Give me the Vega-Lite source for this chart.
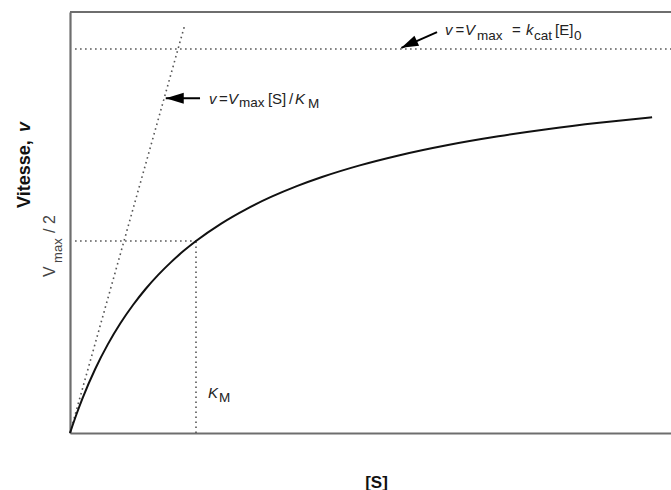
{
  "$schema": "https://vega.github.io/schema/vega-lite/v6.json",
  "width": 601,
  "height": 421,
  "autosize": "none",
  "padding": {"left": 70, "top": 12, "right": 0, "bottom": 57},
  "config": {"view": {"stroke": null}, "font": "Liberation Sans"},
  "datasets": {
    "curve": [
      {"s": 0, "v": 0}, {"s": 0.05, "v": 0.0476}, {"s": 0.1, "v": 0.0909}, {"s": 0.2, "v": 0.1667},
      {"s": 0.3, "v": 0.2308}, {"s": 0.4, "v": 0.2857}, {"s": 0.5, "v": 0.3333}, {"s": 0.6, "v": 0.375},
      {"s": 0.7, "v": 0.4118}, {"s": 0.8, "v": 0.4444}, {"s": 0.9, "v": 0.4737}, {"s": 1.0, "v": 0.5},
      {"s": 1.2, "v": 0.5455}, {"s": 1.4, "v": 0.5833}, {"s": 1.6, "v": 0.6154}, {"s": 1.8, "v": 0.6429},
      {"s": 2.0, "v": 0.6667}, {"s": 2.3, "v": 0.697}, {"s": 2.6, "v": 0.7222}, {"s": 3.0, "v": 0.75},
      {"s": 3.4, "v": 0.7727}, {"s": 3.8, "v": 0.7917}, {"s": 4.2, "v": 0.8077}, {"s": 4.62, "v": 0.8221}
    ],
    "guides": [
      {"name": "tangent", "x": 0, "y": 0, "x2": 0.913, "y2": 1.065},
      {"name": "vmax", "x": 0.04, "y": 1.0, "x2": 4.77, "y2": 1.0},
      {"name": "half", "x": 0.04, "y": 0.5, "x2": 1.0, "y2": 0.5},
      {"name": "km", "x": 1.0, "y": 0.0, "x2": 1.0, "y2": 0.5}
    ],
    "frame": [
      {"x": 0, "y": 1.0964, "x2": 4.77, "y2": 1.0964}
    ],
    "arrows": [
      {"name": "a1", "x": 2.913, "y": 1.044, "x2": 2.63, "y2": 1.003},
      {"name": "a2", "x": 1.032, "y": 0.872, "x2": 0.76, "y2": 0.872}
    ],
    "labels": [
      {"role": "italic", "t": "v", "x": 2.976, "y": 1.036},
      {"role": "roman", "t": "=", "x": 3.06, "y": 1.036},
      {"role": "italic", "t": "V", "x": 3.135, "y": 1.036},
      {"role": "sub", "t": "max", "x": 3.23, "y": 1.0247},
      {"role": "roman", "t": "=", "x": 3.508, "y": 1.036},
      {"role": "italic", "t": "k", "x": 3.619, "y": 1.036},
      {"role": "sub", "t": "cat", "x": 3.683, "y": 1.0247},
      {"role": "roman", "t": "[E]", "x": 3.849, "y": 1.036},
      {"role": "sub", "t": "0", "x": 4.0, "y": 1.0234},
      {"role": "italic", "t": "v", "x": 1.103, "y": 0.857},
      {"role": "roman", "t": "=", "x": 1.183, "y": 0.857},
      {"role": "italic", "t": "V", "x": 1.254, "y": 0.857},
      {"role": "sub", "t": "max", "x": 1.341, "y": 0.85},
      {"role": "roman", "t": "[S]", "x": 1.571, "y": 0.857},
      {"role": "roman", "t": "/", "x": 1.738, "y": 0.857},
      {"role": "italic", "t": "K", "x": 1.786, "y": 0.857},
      {"role": "sub", "t": "M", "x": 1.889, "y": 0.846},
      {"role": "italic", "t": "K", "x": 1.095, "y": 0.0911},
      {"role": "sub", "t": "M", "x": 1.183, "y": 0.0807},
      {"role": "vroman", "t": "V", "x": -0.119, "y": 0.406},
      {"role": "vroman", "t": "/ 2", "x": -0.119, "y": 0.521},
      {"role": "vsub", "t": "max", "x": -0.0635, "y": 0.443},
      {"role": "ytitle", "t": "Vitesse, ", "x": -0.317, "y": 0.586},
      {"role": "ytitleit", "t": "v", "x": -0.317, "y": 0.784}
    ]
  },
  "encoding": {
    "x": {"field": "x", "type": "quantitative", "scale": {"domain": [0, 4.77], "nice": false, "zero": false}},
    "y": {"field": "y", "type": "quantitative", "scale": {"domain": [0, 1.0964], "nice": false, "zero": false}}
  },
  "layer": [
    {
      "data": {"name": "guides"},
      "mark": {"type": "rule", "color": "#555", "strokeWidth": 1.6, "strokeDash": [1.6, 3.4]},
      "encoding": {
        "x": {"field": "x", "type": "quantitative", "scale": {"domain": [0, 4.77], "nice": false, "zero": false},
              "axis": {"title": "[S]", "domain": true, "domainColor": "#6e6e6e", "domainWidth": 2.2, "ticks": false, "labels": false, "grid": false,
                       "titleFont": "Liberation Sans", "titleFontSize": 17, "titleFontWeight": "bold", "titleColor": "#111",
                       "titleX": 306, "titleY": 54, "titleAlign": "center", "titleBaseline": "alphabetic"}},
        "x2": {"field": "x2"},
        "y": {"field": "y", "type": "quantitative", "scale": {"domain": [0, 1.0964], "nice": false, "zero": false},
              "axis": {"title": null, "domain": true, "domainColor": "#6e6e6e", "domainWidth": 2.2, "ticks": false, "labels": false, "grid": false}},
        "y2": {"field": "y2"}
      }
    },
    {
      "data": {"name": "frame"},
      "mark": {"type": "rule", "color": "#6e6e6e", "strokeWidth": 2.2},
      "encoding": {"x2": {"field": "x2"}, "y2": {"field": "y2"}}
    },
    {
      "data": {"name": "curve"},
      "mark": {"type": "line", "color": "#111", "strokeWidth": 2, "interpolate": "monotone"},
      "encoding": {
        "x": {"field": "s", "type": "quantitative"},
        "y": {"field": "v", "type": "quantitative"}
      }
    },
    {
      "data": {"name": "arrows"},
      "mark": {"type": "rule", "color": "#000", "strokeWidth": 2},
      "encoding": {"x2": {"field": "x2"}, "y2": {"field": "y2"}}
    },
    {
      "data": {"name": "arrows"},
      "transform": [{"filter": "datum.name == 'a1'"}],
      "mark": {"type": "point", "shape": "M0,0L-1.7,-0.55L-1.7,0.55Z", "filled": true, "color": "#000", "opacity": 1, "size": 400, "angle": 155},
      "encoding": {"x": {"field": "x2", "type": "quantitative"}, "y": {"field": "y2", "type": "quantitative"}}
    },
    {
      "data": {"name": "arrows"},
      "transform": [{"filter": "datum.name == 'a2'"}],
      "mark": {"type": "point", "shape": "M0,0L-1.8,-0.55L-1.8,0.55Z", "filled": true, "color": "#000", "opacity": 1, "size": 400, "angle": 180},
      "encoding": {"x": {"field": "x2", "type": "quantitative"}, "y": {"field": "y2", "type": "quantitative"}}
    },
    {
      "data": {"name": "labels"},
      "transform": [{"filter": "datum.role == 'italic'"}],
      "mark": {"type": "text", "align": "left", "baseline": "alphabetic", "fontSize": 15, "fontStyle": "italic", "color": "#222"},
      "encoding": {"text": {"field": "t"}}
    },
    {
      "data": {"name": "labels"},
      "transform": [{"filter": "datum.role == 'roman'"}],
      "mark": {"type": "text", "align": "left", "baseline": "alphabetic", "fontSize": 15, "color": "#222"},
      "encoding": {"text": {"field": "t"}}
    },
    {
      "data": {"name": "labels"},
      "transform": [{"filter": "datum.role == 'sub'"}],
      "mark": {"type": "text", "align": "left", "baseline": "alphabetic", "fontSize": 13.5, "color": "#222"},
      "encoding": {"text": {"field": "t"}}
    },
    {
      "data": {"name": "labels"},
      "transform": [{"filter": "datum.role == 'vroman'"}],
      "mark": {"type": "text", "align": "left", "baseline": "alphabetic", "fontSize": 16, "angle": 270, "color": "#444"},
      "encoding": {"text": {"field": "t"}}
    },
    {
      "data": {"name": "labels"},
      "transform": [{"filter": "datum.role == 'vsub'"}],
      "mark": {"type": "text", "align": "left", "baseline": "alphabetic", "fontSize": 13, "angle": 270, "color": "#444"},
      "encoding": {"text": {"field": "t"}}
    },
    {
      "data": {"name": "labels"},
      "transform": [{"filter": "datum.role == 'ytitle'"}],
      "mark": {"type": "text", "align": "left", "baseline": "alphabetic", "fontSize": 18, "fontWeight": "bold", "angle": 270, "color": "#111"},
      "encoding": {"text": {"field": "t"}}
    },
    {
      "data": {"name": "labels"},
      "transform": [{"filter": "datum.role == 'ytitleit'"}],
      "mark": {"type": "text", "align": "left", "baseline": "alphabetic", "fontSize": 18, "fontWeight": "bold", "fontStyle": "italic", "angle": 270, "color": "#111"},
      "encoding": {"text": {"field": "t"}}
    }
  ]
}
